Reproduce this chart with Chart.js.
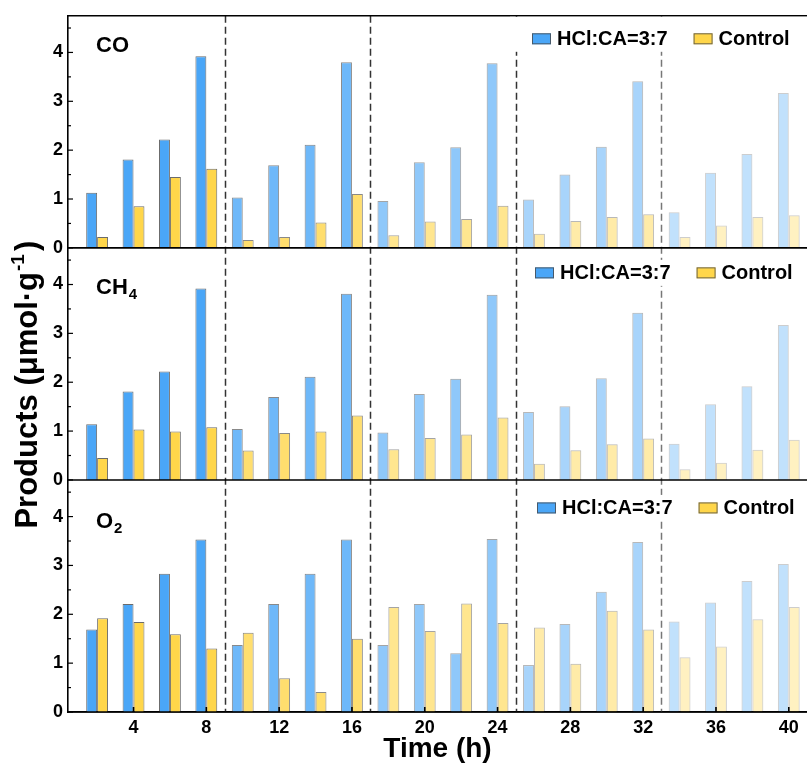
<!DOCTYPE html>
<html>
<head>
<meta charset="utf-8">
<script src="https://cdn.jsdelivr.net/npm/chart.js@4.4.1/dist/chart.umd.min.js"></script>
<style>
  html, body { margin: 0; padding: 0; background: #fff; }
  #wrap { position: relative; width: 807px; height: 765px; }
</style>
</head>
<body>
<div id="wrap"><canvas id="chart"></canvas></div>
<script>
// Dades llegides de la figura (µmol·g-1)
const hours = [2, 4, 6, 8, 10, 12, 14, 16, 18, 20, 22, 24, 26, 28, 30, 32, 34, 36, 38, 40];
const xTickValues = [4, 8, 12, 16, 20, 24, 28, 32, 36, 40];
const yTickValues = [0, 1, 2, 3, 4];
const dividers = [9, 17, 25, 33];

const coSample   = [1.13, 1.81, 2.22, 3.92, 1.03, 1.69, 2.11, 3.80, 0.96, 1.75, 2.06, 3.78, 0.99, 1.50, 2.07, 3.41, 0.73, 1.54, 1.92, 3.17];
const coControl  = [0.22, 0.85, 1.45, 1.62, 0.16, 0.22, 0.52, 1.10, 0.26, 0.54, 0.59, 0.86, 0.29, 0.55, 0.63, 0.69, 0.22, 0.46, 0.63, 0.67];
const ch4Sample  = [1.14, 1.81, 2.22, 3.92, 1.04, 1.70, 2.11, 3.81, 0.97, 1.76, 2.07, 3.79, 1.39, 1.51, 2.08, 3.42, 0.74, 1.55, 1.92, 3.17];
const ch4Control = [0.45, 1.03, 0.99, 1.08, 0.60, 0.96, 0.99, 1.32, 0.63, 0.86, 0.93, 1.28, 0.33, 0.61, 0.73, 0.85, 0.22, 0.35, 0.62, 0.82];
const o2Sample   = [1.69, 2.21, 2.83, 3.53, 1.37, 2.21, 2.83, 3.53, 1.37, 2.21, 1.20, 3.54, 0.96, 1.80, 2.46, 3.48, 1.85, 2.24, 2.68, 3.03];
const o2Control  = [1.92, 1.84, 1.59, 1.30, 1.62, 0.69, 0.41, 1.50, 2.15, 1.66, 2.22, 1.82, 1.73, 0.99, 2.07, 1.69, 1.12, 1.34, 1.90, 2.15];

const sampleLabel = 'HCl:CA=3:7';
const controlLabel = 'Control';

// Estils
const FONT = '"Liberation Sans", Arial, sans-serif';
const sampleRGB = [74, 166, 247];
const controlRGB = [255, 214, 74];
const blockAlpha = [1, 0.8, 0.62, 0.48, 0.34];

const panels = [
    { id: 'yCO',  name: 'CO', sub: '',  nameDy: 36, legendX: 532, legendDy: 23 },
    { id: 'yCH4', name: 'CH', sub: '4', nameDy: 46, legendX: 535, legendDy: 25 },
    { id: 'yO2',  name: 'O',  sub: '2', nameDy: 48, legendX: 537, legendDy: 28 }
];

function rgba(rgb, a) {
    return `rgba(${rgb[0]}, ${rgb[1]}, ${rgb[2]}, ${a})`;
}

function fillFor(rgb) {
    return (ctx) => rgba(rgb, blockAlpha[Math.floor(ctx.dataIndex / 4)] ?? 1);
}

function borderFor() {
    return (ctx) => rgba([70, 70, 70], 0.8 * (blockAlpha[Math.floor(ctx.dataIndex / 4)] ?? 1));
}

function makeDataset(label, values, rgb, axisId, stack) {
    return {
        label: label,
        data: values.map((v, i) => ({ x: hours[i], y: v })),
        yAxisID: axisId,
        stack: stack,
        backgroundColor: fillFor(rgb),
        borderColor: borderFor(),
        borderWidth: 1,
        borderSkipped: 'bottom',
        categoryPercentage: 0.6,
        barPercentage: 1
    };
}

function yAxis(weight) {
    return {
        type: 'linear',
        position: 'left',
        stack: 'products',
        stackWeight: 1,
        weight: weight,
        stacked: false,
        min: 0,
        max: 4.75,
        offset: false,
        grid: { display: false, drawTicks: false },
        border: { display: true, color: '#000', width: 1.6 },
        ticks: {
            color: '#000',
            padding: 5,
            font: { family: FONT, size: 18, weight: 'bold' }
        },
        afterBuildTicks: (s) => { s.ticks = yTickValues.map(v => ({ value: v })); },
        afterFit: (s) => { s.width = 68; }
    };
}

// Línies discontínues, marques interiors, llegendes i rètols
const decorPlugin = {
    id: 'decor',
    beforeDatasetsDraw(chart) {
        const { ctx, chartArea, scales } = chart;
        ctx.save();
        ctx.lineWidth = 1.5;
        ctx.setLineDash([7, 4]);
        dividers.forEach((d, i) => {
            const px = Math.round(scales.x.getPixelForValue(d)) + 0.5;
            ctx.strokeStyle = i === dividers.length - 1 ? '#777' : '#333';
            ctx.beginPath();
            ctx.moveTo(px, chartArea.top);
            ctx.lineTo(px, chartArea.bottom);
            ctx.stroke();
        });
        ctx.restore();
    },
    afterDatasetsDraw(chart) {
        const { ctx, chartArea, scales } = chart;
        ctx.save();

        // vores dels panells
        ctx.strokeStyle = '#000';
        ctx.lineWidth = 1.6;
        panels.forEach((p, k) => {
            const s = scales[p.id];
            if (k === 0) {
                ctx.beginPath();
                ctx.moveTo(chartArea.left, s.top);
                ctx.lineTo(chartArea.right, s.top);
                ctx.stroke();
            }
            const y0 = s.getPixelForValue(0);
            ctx.beginPath();
            ctx.moveTo(chartArea.left, y0);
            ctx.lineTo(chartArea.right, y0);
            ctx.stroke();

            // marques interiors (majors i menors)
            ctx.lineWidth = 1.2;
            yTickValues.forEach(v => {
                [v, v + 0.5].forEach((t, j) => {
                    if (t >= s.max) return;
                    const py = s.getPixelForValue(t);
                    ctx.beginPath();
                    ctx.moveTo(chartArea.left, py);
                    ctx.lineTo(chartArea.left + (j === 0 ? 5 : 3), py);
                    ctx.stroke();
                });
            });
            ctx.lineWidth = 1.6;
        });
        xTickValues.forEach(v => {
            const px = scales.x.getPixelForValue(v);
            ctx.beginPath();
            ctx.moveTo(px, chartArea.bottom);
            ctx.lineTo(px, chartArea.bottom - 5);
            ctx.stroke();
        });

        // llegendes
        panels.forEach((p, k) => {
            const s = scales[p.id];
            const cy = s.top + p.legendDy;
            ctx.font = `bold 20px ${FONT}`;
            ctx.textBaseline = 'middle';
            ctx.textAlign = 'left';
            const w1 = ctx.measureText(sampleLabel).width;
            const w2 = ctx.measureText(controlLabel).width;
            const bw = 19, bh = 11;
            const x1 = p.legendX;
            const x2 = x1 + bw + 6 + w1 + 26;
            // fons blanc sobre les línies discontínues
            ctx.fillStyle = '#fff';
            if (k === 0) {
                ctx.fillRect(x1 - 22, s.top + 1, chartArea.right - x1 + 22, cy - s.top + 12);
            } else {
                ctx.fillRect(x1 - 4, cy - 13, x2 + bw + 7 + w2 + 4 - (x1 - 4), 26);
            }
            [[x1, sampleRGB, sampleLabel], [x2, controlRGB, controlLabel]].forEach(([bx, rgb, txt]) => {
                ctx.fillStyle = rgba(rgb, 1);
                ctx.fillRect(bx, cy - bh / 2, bw, bh);
                ctx.strokeStyle = 'rgba(70,70,70,0.8)';
                ctx.lineWidth = 1;
                ctx.strokeRect(bx + 0.5, cy - bh / 2 + 0.5, bw - 1, bh - 1);
                ctx.fillStyle = '#000';
                ctx.fillText(txt, bx + bw + 6, cy + 1);
            });

            // nom del producte
            const lx = chartArea.left + 28;
            const ly = s.top + p.nameDy;
            ctx.textBaseline = 'alphabetic';
            ctx.font = `bold 22px ${FONT}`;
            ctx.fillText(p.name, lx, ly);
            if (p.sub) {
                const nw = ctx.measureText(p.name).width;
                ctx.font = `bold 15px ${FONT}`;
                ctx.fillText(p.sub, lx + nw + 1, ly + 5);
            }
        });

        // títol de l'eix Y
        const midY = scales.yCH4.getPixelForValue(1.95);
        ctx.translate(37, midY);
        ctx.rotate(-Math.PI / 2);
        ctx.fillStyle = '#000';
        ctx.textBaseline = 'alphabetic';
        const big = `bold 31px ${FONT}`, small = `bold 19px ${FONT}`;
        const partA = 'Products (μmol·g', partB = '-1', partC = ')';
        ctx.font = big;
        const wa = ctx.measureText(partA).width, wc = ctx.measureText(partC).width;
        ctx.font = small;
        const wb = ctx.measureText(partB).width;
        let tx = -(wa + wb + wc + 4) / 2;
        ctx.font = big;
        ctx.fillText(partA, tx, 0);
        tx += wa + 1;
        ctx.font = small;
        ctx.fillText(partB, tx, -13);
        tx += wb + 3;
        ctx.font = big;
        ctx.fillText(partC, tx, 0);
        ctx.restore();
    }
};

const chart = new Chart(document.getElementById('chart'), {
    type: 'bar',
    data: {
        datasets: [
            makeDataset(sampleLabel, coSample, sampleRGB, 'yCO', 'sample'),
            makeDataset(controlLabel, coControl, controlRGB, 'yCO', 'control'),
            makeDataset(sampleLabel, ch4Sample, sampleRGB, 'yCH4', 'sample'),
            makeDataset(controlLabel, ch4Control, controlRGB, 'yCH4', 'control'),
            makeDataset(sampleLabel, o2Sample, sampleRGB, 'yO2', 'sample'),
            makeDataset(controlLabel, o2Control, controlRGB, 'yO2', 'control')
        ]
    },
    options: {
        responsive: true,
        maintainAspectRatio: false,
        animation: false,
        layout: { padding: { top: 14, left: 0, right: 0, bottom: 0 } },
        plugins: {
            legend: { display: false },
            tooltip: { enabled: false }
        },
        scales: {
            x: {
                type: 'linear',
                min: 0.4,
                max: 41,
                offset: false,
                grid: { display: false, drawTicks: false },
                border: { display: true, color: '#000', width: 1.6 },
                ticks: {
                    color: '#000',
                    padding: 5,
                    maxRotation: 0,
                    font: { family: FONT, size: 18, weight: 'bold' }
                },
                title: {
                    display: true,
                    text: 'Time (h)',
                    color: '#000',
                    padding: { top: 0, bottom: 0 },
                    font: { family: FONT, size: 28, weight: 'bold', lineHeight: 1.1 }
                },
                afterBuildTicks: (s) => { s.ticks = xTickValues.map(v => ({ value: v })); },
                afterFit: (s) => { s.height = 53; }
            },
            yCO: yAxis(3),
            yCH4: yAxis(2),
            yO2: yAxis(1)
        }
    },
    plugins: [decorPlugin]
});
</script>
</body>
</html>
